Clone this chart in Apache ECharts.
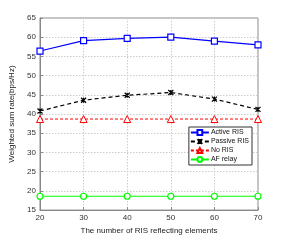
<!DOCTYPE html>
<html><head><meta charset="utf-8">
<script src="https://cdn.jsdelivr.net/npm/echarts@6/dist/echarts.min.js"></script>
<style>html,body{margin:0;padding:0;background:#fff}#c{width:285px;height:240px}</style>
</head><body><div id="c"></div>
<script>
const categories = [20, 30, 40, 50, 60, 70];
const activeRIS = [56.4, 59.1, 59.7, 60.0, 59.0, 58.0];
const passiveRIS = [40.8, 43.6, 44.9, 45.6, 43.9, 41.2];
const noRIS = [38.7, 38.7, 38.7, 38.7, 38.7, 38.7];
const afRelay = [18.6, 18.6, 18.6, 18.6, 18.6, 18.6];
const yTicks = [15, 20, 25, 30, 35, 40, 45, 50, 55, 60, 65];

const chart = echarts.init(document.getElementById('c'));
const pair = a => a.map((v, i) => [categories[i], v]);
const lbl = {color: '#333', fontSize: 8, fontFamily: 'Liberation Sans'};
chart.setOption({
  animation: false,
  grid: {left: 37, right: 27, top: 18, bottom: 28, show: true, borderColor: '#888', borderWidth: 1},
  legend: {
    orient: 'vertical', right: 33, top: 127,
    backgroundColor: '#fff', borderColor: '#333', borderWidth: 1,
    padding: [2, 3, 2, 1], itemGap: 2, itemWidth: 18, itemHeight: 6,
    textStyle: {fontSize: 7, color: '#111', fontFamily: 'Liberation Sans', padding: [0, 0, 0, -3]},
    data: ['Active RIS', 'Passive RIS', 'No RIS', 'AF relay']
  },
  xAxis: {
    type: 'value', min: 20, max: 70, interval: 10,
    name: 'The number of RIS reflecting elements', nameLocation: 'middle', nameGap: 14,
    nameTextStyle: {fontSize: 8, color: '#222', fontFamily: 'Liberation Sans'},
    axisLine: {show: true, lineStyle: {color: '#888'}},
    axisTick: {inside: true, length: 3, lineStyle: {color: '#888'}},
    axisLabel: Object.assign({margin: 4}, lbl),
    splitLine: {show: true, lineStyle: {type: [1.5, 1.5], color: '#ccc'}}
  },
  yAxis: {
    type: 'value', min: 15, max: 65, interval: 5,
    name: 'Weighted sum rate(bps/Hz)', nameLocation: 'middle', nameGap: 24,
    nameTextStyle: {fontSize: 8, color: '#222', fontFamily: 'Liberation Sans'},
    axisLine: {show: true, lineStyle: {color: '#888'}},
    axisTick: {inside: true, length: 3, lineStyle: {color: '#888'}},
    axisLabel: Object.assign({margin: 4, formatter: v => yTicks.includes(v) ? String(v) : ''}, lbl),
    splitLine: {show: true, lineStyle: {type: [1.5, 1.5], color: '#ccc'}}
  },
  series: [
    {name: 'Active RIS', type: 'line', data: pair(activeRIS), symbol: 'rect', symbolSize: 6,
     lineStyle: {color: '#0000ff', width: 1.2}, itemStyle: {color: '#fff', borderColor: '#0000ff', borderWidth: 1.2}},
    {name: 'Passive RIS', type: 'line', data: pair(passiveRIS),
     symbol: 'path://M0,0L10,10M10,0L0,10M5,0L5,10', symbolSize: 5,
     lineStyle: {color: '#000', width: 1.2, type: [4, 3]}, itemStyle: {color: '#000', borderColor: '#000', borderWidth: 1.2}},
    {name: 'No RIS', type: 'line', data: pair(noRIS), symbol: 'triangle', symbolSize: 7,
     lineStyle: {color: '#ff0000', width: 1, type: [3, 2]}, itemStyle: {color: '#fff', borderColor: '#ff0000', borderWidth: 1}},
    {name: 'AF relay', type: 'line', data: pair(afRelay), symbol: 'circle', symbolSize: 6,
     lineStyle: {color: '#00ff00', width: 1.2}, itemStyle: {color: '#fff', borderColor: '#00ff00', borderWidth: 1.2}}
  ]
});
</script></body></html>
